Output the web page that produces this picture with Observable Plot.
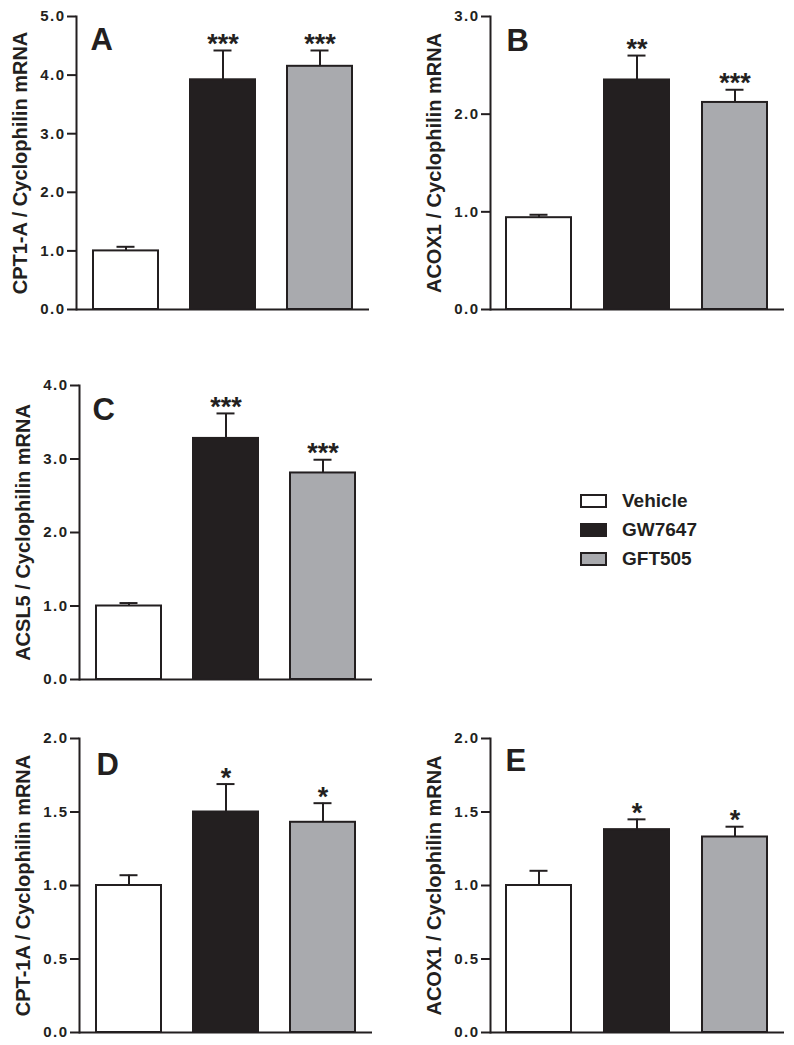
<!DOCTYPE html>
<html>
<head>
<meta charset="utf-8">
<script src="https://cdn.jsdelivr.net/npm/d3@7"></script>
<script src="https://cdn.jsdelivr.net/npm/@observablehq/plot@0.6"></script>
<style>
  html, body { margin: 0; padding: 0; background: #fff; overflow: hidden; }
  #fig { position: relative; width: 794px; height: 1045px; font-family: "Liberation Sans", Arial, sans-serif; }
  .panel { position: absolute; }
  .legend { position: absolute; left: 580px; top: 486px; font-weight: bold; font-size: 19px; color: #231f20; }
  .legend .row { display: flex; align-items: center; height: 29px; }
  .legend .sw { width: 23px; height: 10px; border: 2px solid #231f20; margin-right: 15px; }
</style>
</head>
<body>
<div id="fig"></div>
<script>
// ---- data ----
const groups = ["Vehicle", "GW7647", "GFT505"];
const groupColors = ["#ffffff", "#231f20", "#a9aaae"];

const titleA = "CPT1-A / Cyclophilin mRNA";
const meansA = [1.00, 3.92, 4.15];
const errsA  = [0.07, 0.50, 0.27];
const starsA = ["", "***", "***"];
const ticksA = [0, 1, 2, 3, 4, 5];

const titleB = "ACOX1 / Cyclophilin mRNA";
const meansB = [0.94, 2.35, 2.12];
const errsB  = [0.03, 0.25, 0.13];
const starsB = ["", "**", "***"];
const ticksB = [0, 1, 2, 3];

const titleC = "ACSL5 / Cyclophilin mRNA";
const meansC = [1.00, 3.28, 2.81];
const errsC  = [0.04, 0.34, 0.18];
const starsC = ["", "***", "***"];
const ticksC = [0, 1, 2, 3, 4];

const titleD = "CPT-1A / Cyclophilin mRNA";
const meansD = [1.00, 1.50, 1.43];
const errsD  = [0.07, 0.19, 0.13];
const starsD = ["", "*", "*"];
const ticksD = [0, 0.5, 1.0, 1.5, 2.0];

const titleE = "ACOX1 / Cyclophilin mRNA";
const meansE = [1.00, 1.38, 1.33];
const errsE  = [0.10, 0.07, 0.07];
const starsE = ["", "*", "*"];
const ticksE = [0, 0.5, 1.0, 1.5, 2.0];

// ---- drawing ----
const FONT = "'Liberation Sans', Arial, sans-serif";
const INK = "#231f20";

function panel(cfg) {
  const rows = groups.map((g, i) => ({
    group: g, value: cfg.means[i], top: cfg.means[i] + cfg.errs[i], star: cfg.stars[i]
  }));
  const ticks = cfg.ticks;
  const svg = Plot.plot({
    width: cfg.width, height: cfg.height,
    marginLeft: cfg.mL, marginRight: cfg.mR, marginTop: cfg.mT, marginBottom: cfg.mB,
    style: { fontFamily: FONT, fontSize: "15px", fontWeight: "bold", color: INK, background: "#fff", overflow: "visible" },
    x: { domain: groups, paddingInner: 0.333, paddingOuter: 0.165, axis: null },
    y: { domain: [0, ticks[ticks.length - 1]], axis: null },
    color: { domain: groups, range: groupColors },
    marks: [
      Plot.barY(rows, { x: "group", y: "value", fill: "group", stroke: INK, strokeWidth: 2 }),
      Plot.ruleX(rows, { x: "group", y1: "value", y2: "top", stroke: INK, strokeWidth: 2 }),
      Plot.tickY(rows, { x: "group", y: "top", stroke: INK, strokeWidth: 2, inset: 23.5 }),
      Plot.text(rows, { x: "group", y: "top", text: "star", dy: -6, fontSize: 27, fontWeight: "bold", fill: INK }),
      Plot.axisY({ ticks: ticks, tickFormat: d3.format(".1f"), tickSize: 9, tickPadding: 2, strokeWidth: 2, stroke: INK, fill: INK, label: null, fontSize: 15, fontWeight: "bold" }),
      Plot.frame({ anchor: "left", stroke: INK, strokeWidth: 2 }),
      Plot.ruleY([0], { stroke: INK, strokeWidth: 2 }),
      Plot.text([cfg.letter], { text: d => d, frameAnchor: "top-left", textAnchor: "start", lineAnchor: "top", dx: cfg.ldx, dy: cfg.ldy, fontSize: 31, fontWeight: "bold", fill: INK }),
      Plot.text([cfg.title], { text: d => d, frameAnchor: "left", textAnchor: "middle", lineAnchor: "middle", rotate: -90, dx: -56, fontSize: 20, fontWeight: "bold", fill: INK })
    ]
  });
  d3.select(svg).selectAll('g[aria-label="y-axis tick label"] text')
    .attr("letter-spacing", "1.5px");
  return svg;
}

const fig = document.getElementById("fig");
function place(node, left, top) {
  node.classList.add("panel");
  node.style.left = left + "px";
  node.style.top = top + "px";
  fig.appendChild(node);
}

place(panel({ letter: "A", title: titleA, means: meansA, errs: errsA, stars: starsA, ticks: ticksA,
  width: 397, height: 330, mL: 76, mR: 28, mT: 16, mB: 21, ldx: 14, ldy: 11 }), 0, 0);
place(panel({ letter: "B", title: titleB, means: meansB, errs: errsB, stars: starsB, ticks: ticksB,
  width: 397, height: 330, mL: 93, mR: 10, mT: 16, mB: 21, ldx: 16, ldy: 12 }), 397, 0);
place(panel({ letter: "C", title: titleC, means: meansC, errs: errsC, stars: starsC, ticks: ticksC,
  width: 397, height: 340, mL: 79, mR: 25, mT: 25, mB: 21, ldx: 13, ldy: 12 }), 0, 360);
place(panel({ letter: "D", title: titleD, means: meansD, errs: errsD, stars: starsD, ticks: ticksD,
  width: 397, height: 335, mL: 79, mR: 25, mT: 28, mB: 13, ldx: 17, ldy: 14 }), 0, 710);
place(panel({ letter: "E", title: titleE, means: meansE, errs: errsE, stars: starsE, ticks: ticksE,
  width: 397, height: 335, mL: 93, mR: 10, mT: 28, mB: 13, ldx: 15, ldy: 10 }), 397, 710);

// legend
const legend = document.createElement("div");
legend.className = "legend";
groups.forEach((g, i) => {
  const row = document.createElement("div");
  row.className = "row";
  const sw = document.createElement("span");
  sw.className = "sw";
  sw.style.background = groupColors[i];
  const lab = document.createElement("span");
  lab.textContent = g;
  row.appendChild(sw); row.appendChild(lab);
  legend.appendChild(row);
});
fig.appendChild(legend);
</script>
</body>
</html>
